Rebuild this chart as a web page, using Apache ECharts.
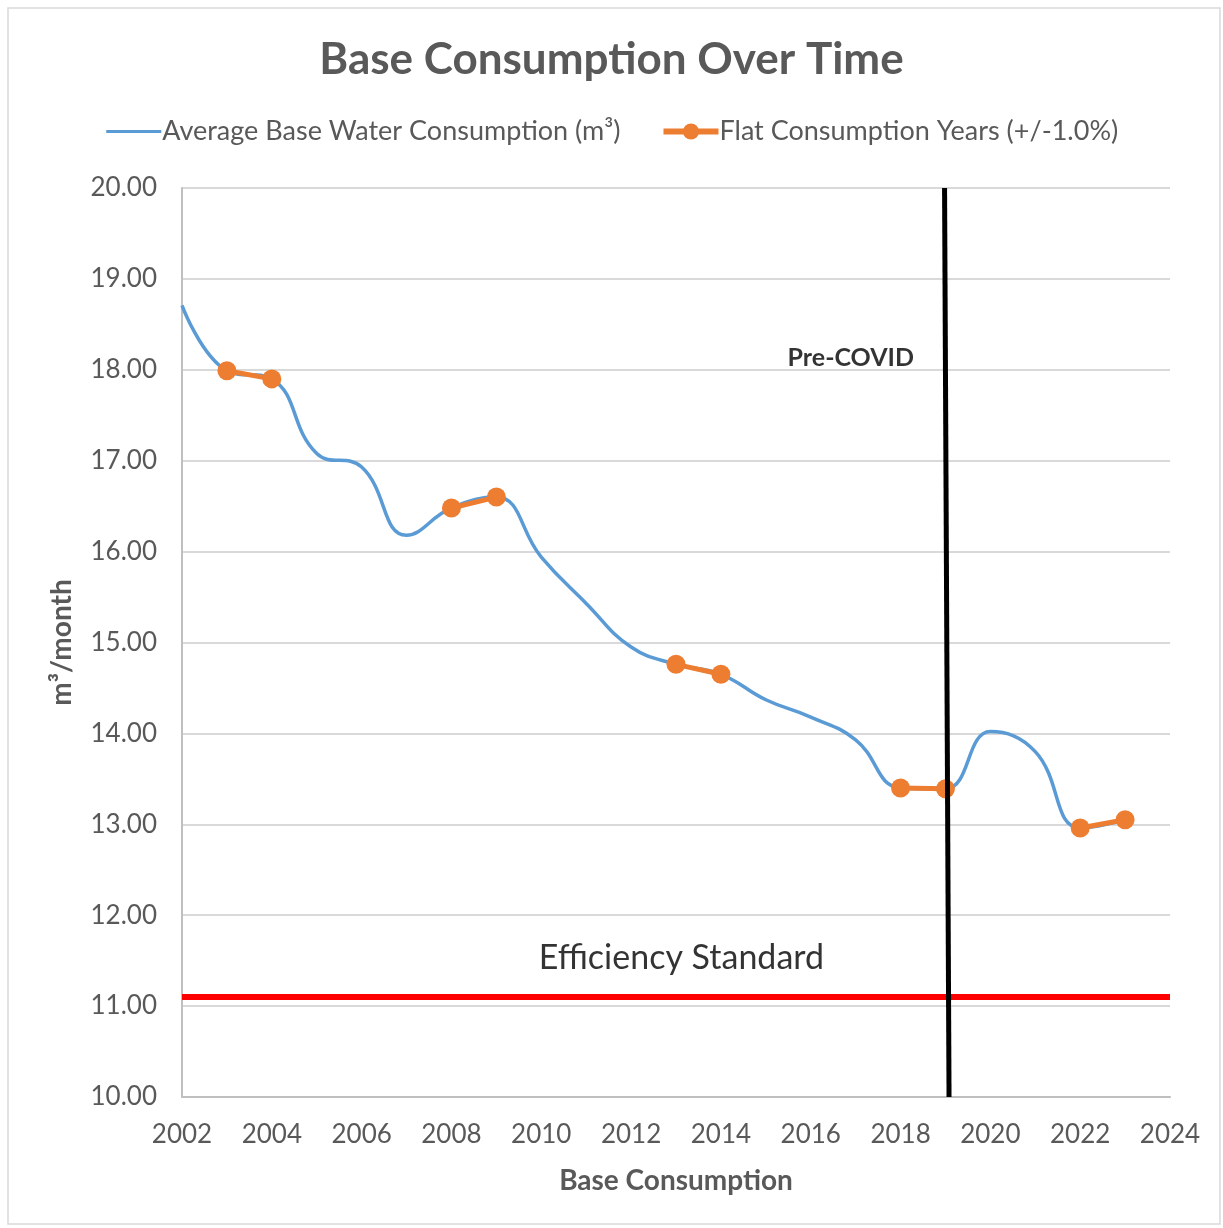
<!DOCTYPE html>
<html>
<head>
<meta charset="utf-8">
<title>Base Consumption Over Time</title>
<script src="https://cdn.jsdelivr.net/npm/echarts@6/dist/echarts.min.js"></script>
<style>
  html, body { margin: 0; padding: 0; background: #fff; }
  #chart { width: 1223px; height: 1228px; }
</style>
</head>
<body>
<div id="chart"></div>
<script>
const years = [2002, 2003, 2004, 2005, 2006, 2007, 2008, 2009, 2010, 2011, 2012,
  2013, 2014, 2015, 2016, 2017, 2018, 2019, 2020, 2021, 2022, 2023]
const baseValues = [18.71, 17.99, 17.9, 17.08, 16.93, 16.18, 16.48, 16.6, 15.94, 15.43, 14.95,
  14.76, 14.65, 14.37, 14.18, 13.93, 13.4, 13.39, 14.02, 13.8, 12.96, 13.05]

// flat years come in pairs
const flatYears = [2003, 2004, 2008, 2009, 2013, 2014, 2018, 2019, 2022, 2023]
const flatValues = [17.99, 17.9, 16.48, 16.6, 14.76, 14.65, 13.4, 13.39, 12.96, 13.05]

const efficiencyStandard = 11.1
const covidLineX = [2018.98, 2019.08]
const yTicks = { min: 10, max: 20, interval: 1 }
const xTicks = { min: 2002, max: 2024, interval: 2 }

const textGray = '#595959'
const fontFamily = 'Lato, "Open Sans", sans-serif'

const flatData = []
flatYears.forEach(function (y, i) {
  flatData.push([y, flatValues[i]])
  if (i % 2 === 1) flatData.push([y + 0.5, null])
})

const chart = echarts.init(document.getElementById('chart'))
chart.setOption({
  animation: false,
  textStyle: { fontFamily: fontFamily },
  title: {
    text: 'Base Consumption Over Time',
    left: 'center',
    top: 33,
    textStyle: { fontSize: 44, fontWeight: 'bold', color: textGray, fontFamily: fontFamily }
  },
  legend: {
    data: [
      {
        name: 'Average Base Water Consumption (m³)',
        itemStyle: { opacity: 0 },
        lineStyle: { width: 3, color: '#5b9bd5' }
      },
      {
        name: 'Flat Consumption Years (+/-1.0%)',
        lineStyle: { width: 6, color: '#ed7d31' }
      }
    ],
    top: 113,
    left: 'center',
    itemWidth: 55,
    itemHeight: 20,
    itemGap: 40,
    textStyle: { fontSize: 27, color: textGray, padding: [0, 0, 0, -4] }
  },
  grid: {
    left: 182,
    right: 53,
    top: 188,
    bottom: 131
  },
  xAxis: {
    type: 'value',
    min: xTicks.min,
    max: xTicks.max,
    interval: xTicks.interval,
    name: 'Base Consumption',
    nameLocation: 'middle',
    nameGap: 70,
    nameTextStyle: { fontSize: 28, fontWeight: 'bold', color: textGray },
    axisLine: { show: true, lineStyle: { color: '#bfbfbf', width: 2 } },
    axisTick: { show: false },
    splitLine: { show: false },
    axisLabel: {
      fontSize: 26,
      color: textGray,
      margin: 25,
      formatter: function (v) { return String(v) }
    }
  },
  yAxis: {
    type: 'value',
    min: yTicks.min,
    max: yTicks.max,
    interval: yTicks.interval,
    name: 'm³/month',
    nameLocation: 'middle',
    nameGap: 106,
    nameTextStyle: { fontSize: 28, fontWeight: 'bold', color: textGray },
    axisLine: { show: true, lineStyle: { color: '#bfbfbf', width: 2 } },
    axisTick: { show: false },
    splitLine: { lineStyle: { color: '#d9d9d9', width: 2 } },
    axisLabel: {
      fontSize: 26,
      color: textGray,
      margin: 25,
      formatter: function (v) { return v.toFixed(2) }
    }
  },
  series: [
    {
      name: 'Efficiency Standard',
      type: 'line',
      data: [[xTicks.min, efficiencyStandard], [xTicks.max, efficiencyStandard]],
      symbol: 'none',
      lineStyle: { color: '#ff0000', width: 6 },
      z: 3
    },
    {
      name: 'Average Base Water Consumption (m³)',
      type: 'line',
      data: years.map(function (y, i) { return [y, baseValues[i]] }),
      smooth: 0.45,
      symbol: 'none',
      lineStyle: { color: '#5b9bd5', width: 3.5 },
      itemStyle: { color: '#5b9bd5' },
      z: 4
    },
    {
      name: 'Flat Consumption Years (+/-1.0%)',
      type: 'line',
      data: flatData,
      connectNulls: false,
      symbol: 'circle',
      symbolSize: 19,
      showAllSymbol: true,
      lineStyle: { color: '#ed7d31', width: 5 },
      itemStyle: { color: '#ed7d31' },
      z: 5
    },
    {
      name: 'Pre-COVID line',
      type: 'line',
      data: [[covidLineX[0], yTicks.max], [covidLineX[1], yTicks.min]],
      symbol: 'none',
      lineStyle: { color: '#000000', width: 5 },
      z: 6
    },
    {
      name: 'labels',
      type: 'scatter',
      symbolSize: 0,
      silent: true,
      z: 7,
      data: [
        {
          value: [2018.3, 18.13],
          label: {
            show: true, formatter: 'Pre-COVID', position: 'left', distance: 0,
            fontSize: 25, fontWeight: 'bold', color: '#000'
          }
        },
        {
          value: [2013.12, 11.53],
          label: {
            show: true, formatter: 'Efficiency Standard', position: 'inside',
            fontSize: 34, color: '#000'
          }
        }
      ]
    }
  ],
  graphic: [
    {
      type: 'rect',
      shape: { x: 8, y: 8, width: 1212, height: 1216 },
      style: { fill: 'none', stroke: '#d9d9d9', lineWidth: 1.5 },
      silent: true
    }
  ]
})
</script>
</body>
</html>
